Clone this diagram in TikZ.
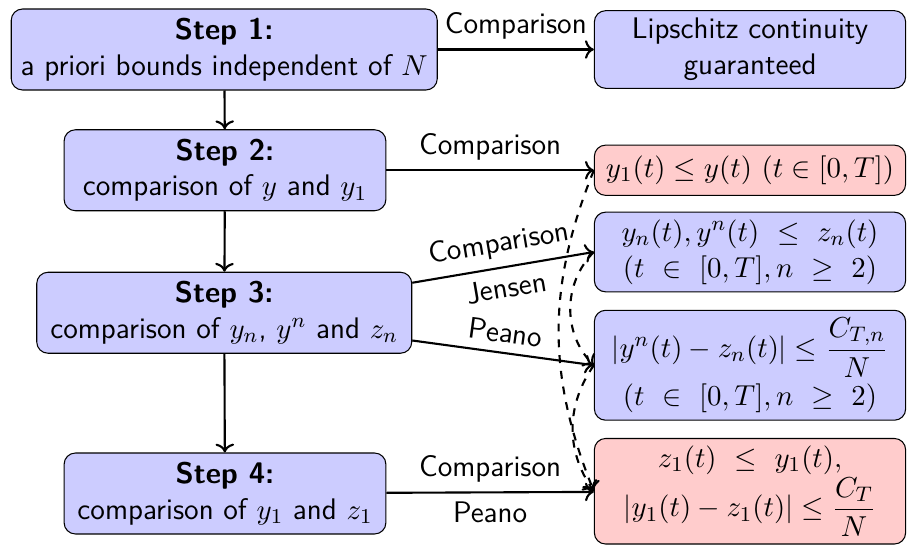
\documentclass[tikz,border=0pt]{standalone}
\usepackage{amsmath,amssymb}
\usetikzlibrary{arrows.meta,positioning}
\definecolor{boxblue}{HTML}{CCCCFF}
\definecolor{boxred}{HTML}{FFCCCC}

\begin{document}
\begin{tikzpicture}[
font={\sffamily\fontsize{11.3}{13.6}\selectfont},
stepbox/.style={draw,rounded corners=1.5mm,fill=boxblue,align=center,inner xsep=0.5mm,inner ysep=1.2mm},
resbox/.style={draw,rounded corners=1.5mm,fill=boxblue,align=center,minimum width=4.15cm,inner xsep=0.5mm,inner ysep=1mm},
keybox/.style={resbox,fill=boxred},
arr/.style={->,thick},
darr/.style={->,thick,dashed}
]
\useasboundingbox (0,0) rectangle (12.12,-7.28);
% left column: the four steps
\node[stepbox,minimum width=5.68cm] (s1) at (2.99,-0.66) {\textbf{Step 1:}\\a priori bounds independent of $N$};
\node[stepbox,minimum width=4.29cm] (s2) at (3.0,-2.27) {\textbf{Step 2:}\\comparison of $y$ and $y_1$};
\node[stepbox,minimum width=5.0cm] (s3) at (2.99,-4.17) {\textbf{Step 3:}\\comparison of $y_n$, $y^n$ and $z_n$};
\node[stepbox,minimum width=4.29cm] (s4) at (3.0,-6.58) {\textbf{Step 4:}\\comparison of $y_1$ and $z_1$};
% right column: what each step gives
\node[resbox] (lip) at (10.0,-0.66) {Lipschitz continuity\\guaranteed};
\node[keybox,minimum height=0.67cm] (r1) at (10.0,-2.27) {$y_1(t) \le y(t)\ (t \in [0,T])$};
\node[resbox] (r2) at (10.0,-3.36) {$y_n(t), y^n(t)\ \le\ z_n(t)$\\$(t\ \in\ [0,T], n\ \ge\ 2)$};
\node[resbox] (r3) at (10.0,-4.87) {$|y^n(t) - z_n(t)| \le \dfrac{C_{T,n}}{N}$\\[1.5pt]$(t\ \in\ [0,T], n\ \ge\ 2)$};
\node[keybox] (r4) at (10.0,-6.55) {$z_1(t)\ \le\ y_1(t),$\\$|y_1(t) - z_1(t)| \le \dfrac{C_T}{N}$};
\draw[arr] (s1) -- (s2);
\draw[arr] (s2) -- (s3);
\draw[arr] (s3) -- (s4);
\draw[arr] (s1) -- node[above] {Comparison} (lip);
\draw[arr] (s2) -- node[above] {Comparison} (r1);
\draw[arr] ([yshift=4mm]s3.east) -- node[above,sloped] {Comparison} node[below,sloped] {Jensen} (r2.west);
\draw[arr] ([yshift=-3.7mm]s3.east) -- node[above,sloped] {Peano} (r3.west);
\draw[arr] (s4) -- node[above] {Comparison} node[below] {Peano} (r4);
\draw[darr] (r1.west) to[bend right=22] (r4.west);
\draw[darr] (r2.west) to[bend right=45] (r3.west);
\draw[darr] (r3.west) to[bend right=35] (r4.west);
\end{tikzpicture}
\end{document}
